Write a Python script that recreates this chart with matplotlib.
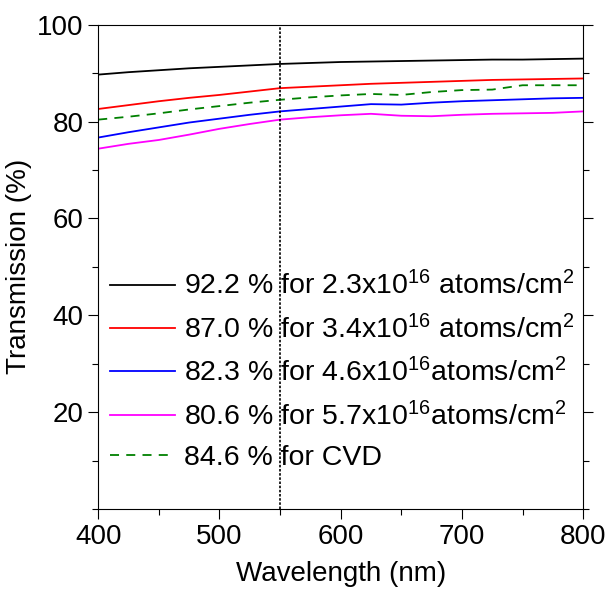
import matplotlib
matplotlib.use("Agg")
import matplotlib.pyplot as plt
from matplotlib.ticker import MultipleLocator

plt.rcParams['font.family'] = ['Liberation Sans', 'DejaVu Sans']
plt.rcParams['mathtext.fontset'] = 'custom'
plt.rcParams['mathtext.rm'] = 'Liberation Sans'
plt.rcParams['mathtext.default'] = 'regular'

# wavelength grid (nm) and transmission (%)
wl = [400, 425, 450, 475, 500, 525, 550, 575, 600, 625, 650, 675, 700, 725, 750, 775, 800]
t_23 = [89.7, 90.2, 90.6, 91.0, 91.3, 91.6, 91.9, 92.1, 92.3, 92.4, 92.5, 92.6, 92.7, 92.8, 92.8, 92.9, 93.0]
t_34 = [82.6, 83.4, 84.2, 84.9, 85.5, 86.2, 86.9, 87.2, 87.5, 87.8, 88.0, 88.2, 88.4, 88.6, 88.7, 88.8, 88.9]
t_46 = [76.7, 77.8, 78.8, 79.8, 80.6, 81.4, 82.1, 82.6, 83.1, 83.6, 83.5, 83.9, 84.2, 84.4, 84.6, 84.8, 84.9]
t_57 = [74.4, 75.4, 76.2, 77.3, 78.5, 79.5, 80.4, 80.9, 81.3, 81.6, 81.2, 81.1, 81.4, 81.6, 81.7, 81.8, 82.1]
t_cvd = [80.4, 81.0, 81.7, 82.5, 83.2, 83.9, 84.5, 85.0, 85.4, 85.7, 85.5, 86.1, 86.5, 86.6, 87.5, 87.5, 87.5]

labels = [
    r'92.2 % for 2.3x10$^{16}$ atoms/cm$^{2}$',
    r'87.0 % for 3.4x10$^{16}$ atoms/cm$^{2}$',
    r'82.3 % for 4.6x10$^{16}$atoms/cm$^{2}$',
    r'80.6 % for 5.7x10$^{16}$atoms/cm$^{2}$',
    '84.6 % for CVD',
]
marker_wl = 550

fig = plt.figure(figsize=(6.10, 6.03), dpi=100)
ax = fig.add_axes([0.161, 0.156, 0.795, 0.803])

ax.plot(wl, t_23, color='black', lw=1.3, label=labels[0])
ax.plot(wl, t_34, color='red', lw=1.3, label=labels[1])
ax.plot(wl, t_46, color='blue', lw=1.3, label=labels[2])
ax.plot(wl, t_57, color='magenta', lw=1.3, label=labels[3])
ax.plot(wl, t_cvd, color='green', lw=1.3, ls=(0, (5, 4)), label=labels[4])
ax.axvline(marker_wl, color='black', lw=1.2, ls=(0, (1.5, 1)))

ax.set_xlim(400, 800)
ax.set_ylim(0, 100)
ax.xaxis.set_major_locator(MultipleLocator(100))
ax.xaxis.set_minor_locator(MultipleLocator(50))
ax.yaxis.set_major_locator(MultipleLocator(20))
ax.yaxis.set_minor_locator(MultipleLocator(10))
ax.set_yticks([20, 40, 60, 80, 100])
ax.tick_params(axis='both', which='major', labelsize=20, length=7, width=0.8, direction='out', right=True)
ax.tick_params(axis='both', which='minor', length=4, width=0.8, direction='out', right=True)
ax.set_xlabel('Wavelength (nm)', fontsize=20, labelpad=8)
ax.set_ylabel('Transmission (%)', fontsize=20, labelpad=4)

ax.legend(loc='upper left', bbox_to_anchor=(0.180, 0.550), bbox_transform=fig.transFigure,
          frameon=False, fontsize=20.5, handlelength=2.3, handletextpad=0.3,
          labelspacing=0.5, borderpad=0, borderaxespad=0)

fig.savefig('out.png', dpi=100)
